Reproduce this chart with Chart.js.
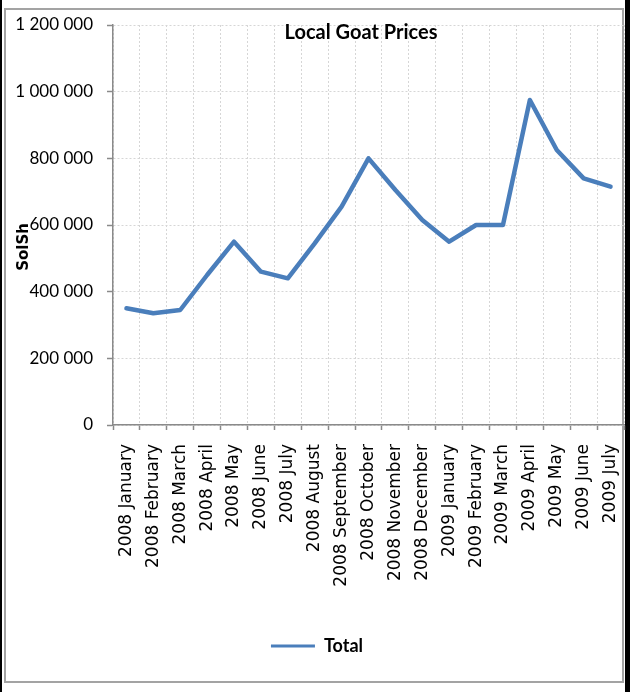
<!doctype html>
<html lang="en">
  <head>
    <meta charset="utf-8">
    <title>Local Goat Prices</title>
    <script src="https://cdn.jsdelivr.net/npm/chart.js"></script>
    <style>
        body{
            margin: 0;
            background: #fff;
        }
        .wrap{
            position: relative;
            width: 630px;
            height: 692px;
            overflow: hidden;
        }
        .edge{
            position: absolute;
            top: 0;
            height: 692px;
            background: #000;
        }
        .frame{
            position: absolute;
            left: 4px;
            top: 8px;
            width: 620px;
            height: 675px;
            box-sizing: border-box;
            border: 2px solid #a3a3a3;
        }
        #goatChart{
            position: absolute;
            left: 0;
            top: 0;
        }
    </style>
  </head>
  <body>
    <div class="wrap">
        <div class="edge" style="left:0;width:2px;"></div>
        <div class="edge" style="left:625px;width:5px;"></div>
        <div class="frame"></div>
        <canvas id="goatChart" width="630" height="692"></canvas>
    </div>

    <script>
        // monthly prices (SolSh)
        const months = [
            '2008 January', '2008 February', '2008 March', '2008 April', '2008 May',
            '2008 June', '2008 July', '2008 August', '2008 September', '2008 October',
            '2008 November', '2008 December', '2009 January', '2009 February',
            '2009 March', '2009 April', '2009 May', '2009 June', '2009 July'
        ];
        const total = [
            350000, 335000, 345000, 450000, 550000,
            460000, 440000, 545000, 655000, 800000,
            705000, 615000, 550000, 600000,
            600000, 975000, 825000, 740000, 715000
        ];
        const yTicks = [0, 200000, 400000, 600000, 800000, 1000000, 1200000];

        const chartTitle = 'Local Goat Prices';
        const yTitle = 'SolSh';
        const seriesName = 'Total';

        const lineBlue = '#4a7ebb';
        const axisGray = '#8a8a8a';

        function spaced(v){
            return String(v).replace(/\B(?=(\d{3})+(?!\d))/g, ' ');
        }

        // title sits inside the plot, axis title is a bit below middle
        const extraText = {
            id: 'extraText',
            afterDraw(chart){
                const ctx = chart.ctx;
                const area = chart.chartArea;
                ctx.save();
                ctx.fillStyle = '#000';
                ctx.font = 'bold 20px Lato';
                ctx.textAlign = 'center';
                ctx.textBaseline = 'alphabetic';
                ctx.fillText(chartTitle, 361, area.top + 14);

                ctx.translate(28, 247);
                ctx.rotate(-Math.PI / 2);
                ctx.font = 'bold 15px "DejaVu Sans"';
                ctx.fillText(yTitle, 0, 0);
                ctx.restore();
            }
        };

        const data = {
            labels: months,
            datasets: [{
                label: seriesName,
                data: total,
                borderColor: lineBlue,
                backgroundColor: lineBlue,
                borderWidth: 4.5,
                borderJoinStyle: 'round',
                borderCapStyle: 'round',
                pointRadius: 0,
                pointHoverRadius: 0,
                tension: 0,
                fill: false
            }]
        };

        const config = {
            type: 'line',
            data: data,
            plugins: [extraText],
            options: {
                responsive: false,
                animation: false,
                events: [],
                layout: {
                    padding: { left: 10, right: 6, top: 25, bottom: 27 }
                },
                plugins: {
                    title: { display: false },
                    tooltip: { enabled: false },
                    legend: {
                        display: true,
                        position: 'bottom',
                        labels: {
                            boxWidth: 44,
                            boxHeight: 3,
                            padding: 10,
                            color: '#000',
                            font: { family: 'Lato', size: 18, weight: 'bold' },
                            generateLabels(chart){
                                const items = Chart.defaults.plugins.legend.labels.generateLabels(chart);
                                items.forEach(function(item){
                                    item.lineWidth = 0;
                                });
                                return items;
                            }
                        }
                    }
                },
                scales: {
                    x: {
                        offset: true,
                        grid: {
                            offset: true,
                            color: '#d6d6d6',
                            lineWidth: 1,
                            tickLength: 5,
                            tickColor: axisGray,
                            tickWidth: 1.5
                        },
                        border: { color: axisGray, width: 1.5, dash: [2, 2] },
                        ticks: {
                            autoSkip: false,
                            minRotation: 90,
                            maxRotation: 90,
                            padding: 14,
                            color: '#000',
                            font: { family: 'DejaVu Sans', size: 17 }
                        },
                        afterFit(scale){
                            scale.height = 202;
                            scale.paddingLeft = 0;
                            scale.paddingRight = 0;
                        }
                    },
                    y: {
                        min: 0,
                        max: 1200000,
                        grid: {
                            color: '#d6d6d6',
                            lineWidth: 1,
                            tickLength: 6,
                            tickColor: axisGray,
                            tickWidth: 1.5
                        },
                        border: { color: axisGray, width: 1.5, dash: [2, 2] },
                        afterBuildTicks(scale){
                            scale.ticks = yTicks.map(function(v){ return { value: v }; });
                        },
                        ticks: {
                            padding: 14,
                            color: '#000',
                            font: { family: 'Lato', size: 17 },
                            callback: function(v){ return spaced(v); }
                        },
                        afterFit(scale){
                            scale.width = 103;
                        }
                    }
                }
            }
        };

        const goatChart = new Chart(document.getElementById('goatChart'), config);
    </script>
  </body>
</html>
